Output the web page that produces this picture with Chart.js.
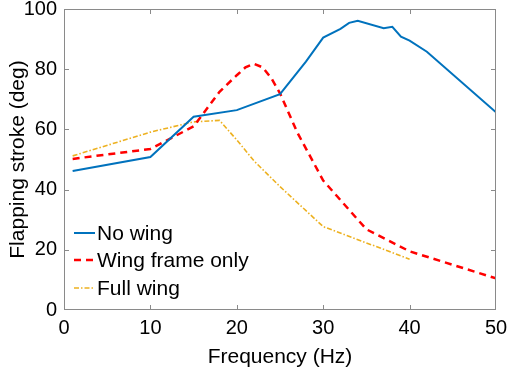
<!DOCTYPE html>
<html>
<head>
<meta charset="utf-8">
<script src="https://cdn.jsdelivr.net/npm/chart.js@4.4.0/dist/chart.umd.min.js"></script>
<style>
  body { margin: 0; background: #fff; }
  #wrap { width: 510px; height: 372px; }
</style>
</head>
<body>
<div id="wrap"><canvas id="myChart" width="510" height="372"></canvas></div>
<script>
// data
const freqNoWing = [1, 10, 15, 20, 25, 28, 30, 32, 33, 34, 37, 38, 39, 40, 42, 50]
const noWing = [46.2, 50.8, 64.2, 66.4, 71.7, 82.5, 90.5, 93.4, 95.4, 96.1, 93.6, 94.1, 90.8, 89.5, 85.8, 65.7]

const freqFrame = [1, 10, 15, 18, 20, 21, 22, 23, 24, 25, 27, 30, 35, 40, 50]
const wingFrame = [50.2, 53.5, 61, 72.5, 78, 80.6, 81.8, 80.6, 77, 72, 59, 43, 26.8, 19.5, 10.5]

const freqFull = [1, 10, 15, 18, 20, 22, 25, 30, 40]
const fullWing = [51.2, 59.1, 62.5, 63, 56.5, 49.5, 41, 27.7, 16.9]

const seriesNames = ['No wing', 'Wing frame only', 'Full wing']
const xTicks = [0, 10, 20, 30, 40, 50]
const yTicks = [0, 20, 40, 60, 80, 100]

const blue = '#0072BD'
const red = '#FF0000'
const yellow = '#EDB120'
const fontFam = '"Liberation Sans", Arial, Helvetica, sans-serif'

function pts(xs, ys) {
    return xs.map((v, i) => ({ x: v, y: ys[i] }))
}

// box + inward ticks like matlab axes
const boxPlugin = {
    id: 'boxPlugin',
    afterDatasetsDraw(chart) {
        const { ctx, chartArea: a, scales } = chart
        ctx.save()
        ctx.strokeStyle = '#8a8a8a'
        ctx.lineWidth = 1
        ctx.strokeRect(a.left + 0.5, a.top + 0.5, a.right - a.left - 1, a.bottom - a.top - 1)
        ctx.beginPath()
        xTicks.slice(1, -1).forEach(v => {
            const px = Math.round(scales.x.getPixelForValue(v)) + 0.5
            ctx.moveTo(px, a.bottom); ctx.lineTo(px, a.bottom - 5)
            ctx.moveTo(px, a.top); ctx.lineTo(px, a.top + 5)
        })
        yTicks.slice(1, -1).forEach(v => {
            const py = Math.round(scales.y.getPixelForValue(v)) + 0.5
            ctx.moveTo(a.left, py); ctx.lineTo(a.left + 5, py)
            ctx.moveTo(a.right, py); ctx.lineTo(a.right - 5, py)
        })
        ctx.stroke()
        ctx.restore()
    }
}

// legend drawn inside the plot, lower left, no frame
const legendPlugin = {
    id: 'legendPlugin',
    afterDraw(chart) {
        const { ctx, chartArea: a } = chart
        const rows = [233, 260, 288]
        ctx.save()
        chart.data.datasets.forEach((ds, i) => {
            const y = rows[i]
            ctx.strokeStyle = ds.borderColor
            ctx.lineWidth = ds.borderWidth
            ctx.setLineDash(ds.borderDash || [])
            ctx.beginPath()
            ctx.moveTo(a.left + 10, y)
            ctx.lineTo(a.left + 31, y)
            ctx.stroke()
            ctx.setLineDash([])
            ctx.fillStyle = '#000'
            ctx.font = '21px ' + fontFam
            ctx.textBaseline = 'middle'
            ctx.textAlign = 'left'
            ctx.fillText(ds.label, a.left + 33, y + 1)
        })
        ctx.restore()
    }
}

const data = {
    datasets: [{
        label: seriesNames[0],
        data: pts(freqNoWing, noWing),
        borderColor: blue,
        borderWidth: 2,
        pointRadius: 0,
        tension: 0
    }, {
        label: seriesNames[1],
        data: pts(freqFrame, wingFrame),
        borderColor: red,
        borderWidth: 2.5,
        borderDash: [7, 5],
        pointRadius: 0,
        tension: 0
    }, {
        label: seriesNames[2],
        data: pts(freqFull, fullWing),
        borderColor: yellow,
        borderWidth: 1.6,
        borderDash: [5, 2, 1.5, 2],
        pointRadius: 0,
        tension: 0
    }]
}

const config = {
    type: 'line',
    data,
    options: {
        responsive: false,
        animation: false,
        layout: { padding: { left: 0, top: 9, right: 14, bottom: 0 } },
        plugins: {
            legend: { display: false },
            tooltip: { enabled: false }
        },
        scales: {
            x: {
                type: 'linear',
                min: 0,
                max: 50,
                afterBuildTicks: s => { s.ticks = xTicks.map(v => ({ value: v })) },
                afterFit: s => { s.height = 62; s.paddingLeft = 0; s.paddingRight = 0 },
                grid: { display: false, drawTicks: false },
                border: { display: false },
                ticks: { color: '#000', padding: 6, font: { size: 20, family: fontFam } },
                title: {
                    display: true,
                    text: 'Frequency (Hz)',
                    color: '#000',
                    font: { size: 21, family: fontFam },
                    padding: { top: 0, bottom: 2 }
                }
            },
            y: {
                min: 0,
                max: 100,
                afterBuildTicks: s => { s.ticks = yTicks.map(v => ({ value: v })) },
                afterFit: s => { s.width = 64; s.paddingTop = 0; s.paddingBottom = 0 },
                grid: { display: false, drawTicks: false },
                border: { display: false },
                ticks: { color: '#000', padding: 7, font: { size: 20, family: fontFam } },
                title: {
                    display: true,
                    text: 'Flapping stroke (deg)',
                    color: '#000',
                    font: { size: 21, family: fontFam },
                    padding: { top: 6, bottom: 0 }
                }
            }
        }
    },
    plugins: [boxPlugin, legendPlugin]
}

const myChart = new Chart(document.getElementById('myChart'), config)
</script>
</body>
</html>
